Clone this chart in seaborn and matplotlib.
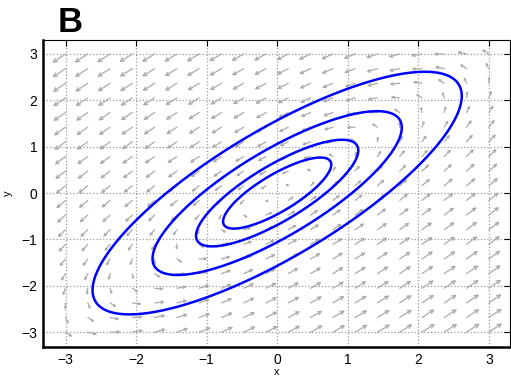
import numpy as np
import pandas as pd
import seaborn as sns
import matplotlib.pyplot as plt

# linear system: dx/dt = a*x + b*y, dy/dt = c*x + d*y
a, b = 0.8, -1.0
c, d = 1.0, -0.8

# quiver grid (20 x 20 points)
grid_x = np.linspace(-3, 3, 20)
grid_y = np.linspace(-3, 3, 20)

# orbit starting points (x0, 0)
start_x = [0.46, 0.69, 1.06, 1.57]
start_y = [0.0, 0.0, 0.0, 0.0]

ticks = [-3, -2, -1, 0, 1, 2, 3]

sns.set_style("white")
plt.rcParams['font.family'] = ['Liberation Sans', 'DejaVu Sans']
plt.rcParams['text.color'] = 'black'
plt.rcParams['xtick.color'] = 'black'
plt.rcParams['ytick.color'] = 'black'
plt.rcParams['axes.labelcolor'] = 'black'

fig = plt.figure(figsize=(5.11, 3.78), dpi=100)
ax = fig.add_axes([0.084, 0.082, 0.914, 0.812])
ax.set_xlim(-3.32, 3.3)
ax.set_ylim(-3.32, 3.3)

# direction field, open-headed arrows; lengths compressed (power 0.3)
X, Y = np.meshgrid(grid_x, grid_y)
U = a * X + b * Y
V = c * X + d * Y
M = np.hypot(U, V)
Mmax = M.max()
for gx, gy, u, v, m in zip(X.ravel(), Y.ravel(), U.ravel(), V.ravel(), M.ravel()):
    L = 0.27 * (m / Mmax) ** 0.3
    ex, ey = gx + u / m * L, gy + v / m * L
    p0 = ax.transData.transform((gx, gy))
    p1 = ax.transData.transform((ex, ey))
    plen = np.hypot(*(p1 - p0))
    ax.annotate('', xy=(ex, ey), xytext=(gx, gy),
                arrowprops=dict(arrowstyle='->', color='#ababab', lw=0.9,
                                shrinkA=0, shrinkB=0,
                                mutation_scale=max(2.5, 0.42 * plen)),
                zorder=2)

# closed orbits, integrated with small RK4 steps
period = 2 * np.pi / np.sqrt(a * d - b * c)
n = 600
dt = period / n


def f(px, py):
    return a * px + b * py, c * px + d * py


rows = []
for k, (x0, y0) in enumerate(zip(start_x, start_y)):
    x, y = x0, y0
    for i in range(n + 1):
        rows.append((k, i, x, y))
        k1 = f(x, y)
        k2 = f(x + dt / 2 * k1[0], y + dt / 2 * k1[1])
        k3 = f(x + dt / 2 * k2[0], y + dt / 2 * k2[1])
        k4 = f(x + dt * k3[0], y + dt * k3[1])
        x += dt / 6 * (k1[0] + 2 * k2[0] + 2 * k3[0] + k4[0])
        y += dt / 6 * (k1[1] + 2 * k2[1] + 2 * k3[1] + k4[1])
orbits = pd.DataFrame(rows, columns=['orbit', 'step', 'x', 'y'])

sns.lineplot(data=orbits, x='x', y='y', units='orbit', estimator=None, sort=False,
             color='#0000ff', linewidth=1.8, ax=ax, zorder=3)

ax.set_xlim(-3.32, 3.3)
ax.set_ylim(-3.32, 3.3)
ax.set_xticks(ticks)
ax.set_yticks(ticks)
ax.grid(True, linestyle=':', color='#999999', linewidth=0.9)
ax.tick_params(direction='in', length=4, top=True, right=True, labelsize=10, pad=4)
for side in ['left', 'bottom']:
    ax.spines[side].set_linewidth(1.8)
for side in ['top', 'right']:
    ax.spines[side].set_linewidth(0.8)
for s in ax.spines.values():
    s.set_color('black')
ax.set_xlabel('x', fontsize=8, labelpad=0)
ax.set_ylabel('y', fontsize=8, labelpad=6)

fig.text(0.112, 0.915, 'B', fontsize=25, fontweight='bold', color='black')

plt.savefig('out.png', dpi=100)
